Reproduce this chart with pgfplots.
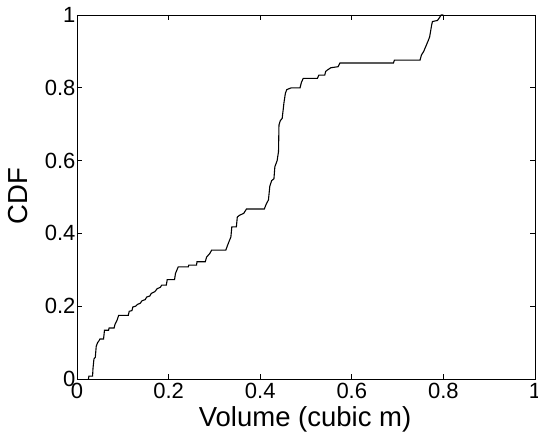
\documentclass[border=0pt]{standalone}
\usepackage{fontspec}
\setmainfont{Liberation Sans}
\usepackage{pgfplots}
\pgfplotsset{compat=1.18}
\begin{document}
\begin{tikzpicture}
\begin{axis}[
  scale only axis,
  width=458pt, height=364pt,
  xmin=0, xmax=1, ymin=0, ymax=1,
  xtick={0,0.2,0.4,0.6,0.8,1},
  ytick={0,0.2,0.4,0.6,0.8,1},
  tick align=inside,
  major tick length=5pt,
  axis line style={line width=0.9pt},
  every tick/.style={black, line width=0.7pt},
  /pgf/number format/assume math mode=true,
  tick label style={font=\fontsize{22}{22}\selectfont},
  xticklabel style={yshift=-0.5pt},
  yticklabel style={xshift=2pt},
  label style={font=\fontsize{27.5}{27.5}\selectfont},
  xlabel={Volume (cubic m)},
  ylabel={CDF},
  xlabel style={at={(axis description cs:0.498,-0.1305)}, anchor=base},
  ylabel style={at={(axis description cs:-0.1076,0.503)}, anchor=base},
  clip=false,
]
\addplot[black, line width=1.1pt, line join=miter] coordinates {
(0.025,0) (0.026,0.008) (0.034,0.008) (0.035,0.03) (0.037,0.055) (0.040,0.06)
(0.042,0.09) (0.045,0.10) (0.048,0.105) (0.050,0.11) (0.058,0.11) (0.060,0.134)
(0.069,0.134) (0.070,0.14) (0.081,0.14) (0.083,0.15) (0.087,0.16) (0.091,0.175)
(0.112,0.175) (0.114,0.186) (0.120,0.188) (0.122,0.198) (0.128,0.2) (0.132,0.205)
(0.138,0.208) (0.142,0.215) (0.149,0.218) (0.152,0.225) (0.159,0.228) (0.162,0.235)
(0.170,0.24) (0.175,0.248) (0.182,0.252) (0.185,0.258) (0.195,0.258) (0.197,0.273)
(0.213,0.273) (0.215,0.29) (0.221,0.308) (0.243,0.308) (0.244,0.313) (0.261,0.313)
(0.262,0.322) (0.280,0.322) (0.283,0.335) (0.290,0.345) (0.294,0.354) (0.325,0.354)
(0.328,0.365) (0.333,0.381) (0.336,0.39) (0.338,0.418) (0.348,0.418) (0.350,0.445)
(0.355,0.45) (0.364,0.455) (0.370,0.467) (0.409,0.467) (0.413,0.48) (0.418,0.492)
(0.421,0.53) (0.425,0.545) (0.430,0.55) (0.432,0.583) (0.437,0.6) (0.440,0.625)
(0.441,0.698) (0.444,0.71) (0.448,0.716) (0.452,0.76) (0.455,0.785) (0.458,0.795)
(0.468,0.8) (0.487,0.8) (0.490,0.815) (0.494,0.826) (0.525,0.826) (0.528,0.835)
(0.541,0.835) (0.543,0.845) (0.548,0.85) (0.554,0.855) (0.570,0.858) (0.574,0.868)
(0.691,0.868) (0.693,0.876) (0.749,0.876) (0.752,0.89) (0.757,0.9) (0.762,0.915)
(0.767,0.93) (0.770,0.94) (0.774,0.97) (0.776,0.982) (0.787,0.985) (0.790,0.99)
(0.795,1.0) (0.80,1.0)
};
\coordinate (sw) at (rel axis cs:0,0);
\coordinate (ne) at (rel axis cs:1,1);
\end{axis}
\pgfresetboundingbox
\useasboundingbox ([xshift=-77pt,yshift=-53pt]sw) rectangle ([xshift=3pt,yshift=15pt]ne);
\end{tikzpicture}
\end{document}
